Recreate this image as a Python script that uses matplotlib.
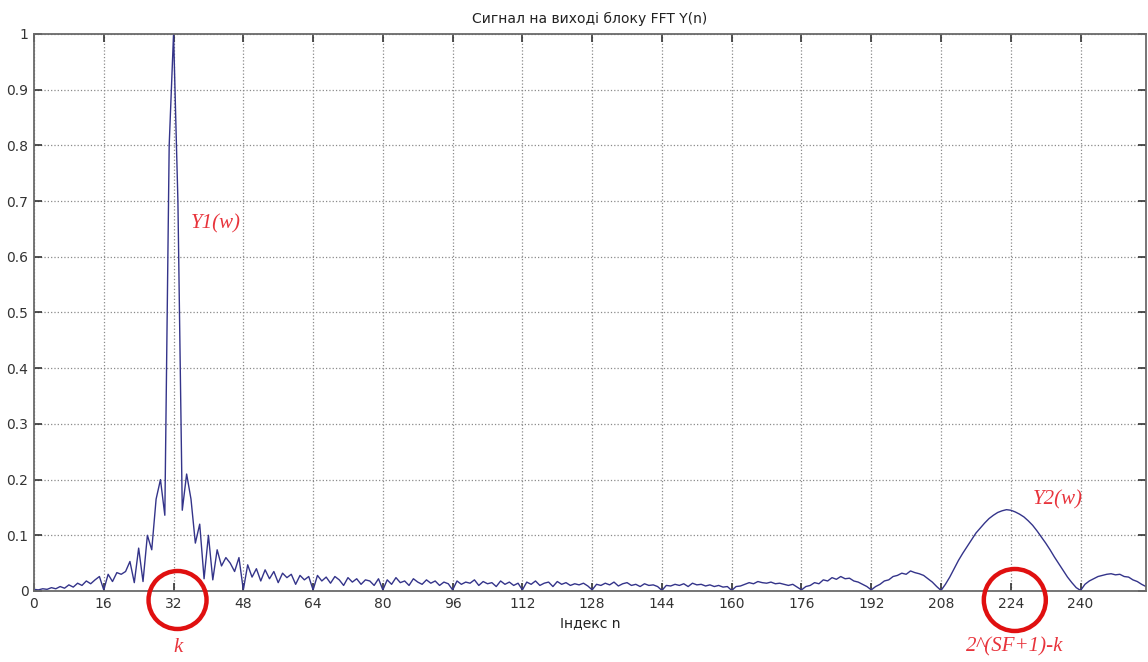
import matplotlib
matplotlib.use('Agg')
import matplotlib.pyplot as plt
from matplotlib.patches import Ellipse

# Амплітуда спектра |Y(n)|, n = 0..255 (по 16 відліків у рядку)
magnitude = [
    0.003, 0.002, 0.004, 0.003, 0.006, 0.004, 0.008, 0.005, 0.011, 0.007, 0.014, 0.010, 0.018, 0.013, 0.020, 0.026,
    0.002, 0.030, 0.017, 0.033, 0.030, 0.035, 0.053, 0.015, 0.077, 0.017, 0.100, 0.074, 0.165, 0.200, 0.136, 0.800,
    1.000, 0.700, 0.145, 0.210, 0.165, 0.086, 0.120, 0.022, 0.100, 0.020, 0.074, 0.045, 0.060, 0.050, 0.035, 0.060,
    0.002, 0.047, 0.025, 0.040, 0.018, 0.038, 0.022, 0.035, 0.015, 0.032, 0.024, 0.030, 0.012, 0.028, 0.020, 0.026,
    0.002, 0.028, 0.018, 0.025, 0.014, 0.026, 0.020, 0.010, 0.024, 0.016, 0.022, 0.012, 0.020, 0.018, 0.010, 0.022,
    0.002, 0.020, 0.012, 0.024, 0.015, 0.018, 0.010, 0.022, 0.016, 0.012, 0.020, 0.014, 0.018, 0.010, 0.016, 0.013,
    0.002, 0.018, 0.012, 0.016, 0.014, 0.020, 0.010, 0.017, 0.013, 0.015, 0.008, 0.018, 0.012, 0.016, 0.010, 0.014,
    0.002, 0.016, 0.012, 0.018, 0.010, 0.014, 0.016, 0.008, 0.017, 0.012, 0.015, 0.010, 0.013, 0.011, 0.014, 0.009,
    0.002, 0.012, 0.010, 0.014, 0.011, 0.016, 0.009, 0.013, 0.015, 0.010, 0.012, 0.008, 0.013, 0.010, 0.011, 0.008,
    0.001, 0.010, 0.009, 0.012, 0.010, 0.013, 0.008, 0.014, 0.011, 0.012, 0.009, 0.011, 0.008, 0.010, 0.007, 0.008,
    0.001, 0.008, 0.009, 0.012, 0.015, 0.013, 0.017, 0.015, 0.014, 0.016, 0.013, 0.014, 0.012, 0.010, 0.012, 0.007,
    0.002, 0.008, 0.010, 0.015, 0.013, 0.020, 0.018, 0.024, 0.021, 0.026, 0.022, 0.023, 0.018, 0.016, 0.012, 0.008,
    0.002, 0.008, 0.012, 0.018, 0.020, 0.026, 0.028, 0.032, 0.030, 0.036, 0.033, 0.031, 0.028, 0.022, 0.016, 0.008,
    0.001, 0.012, 0.025, 0.040, 0.055, 0.068, 0.080, 0.092, 0.104, 0.113, 0.122, 0.130, 0.136, 0.141, 0.144, 0.146,
    0.145, 0.142, 0.138, 0.133, 0.126, 0.118, 0.108, 0.097, 0.086, 0.074, 0.061, 0.049, 0.037, 0.025, 0.015, 0.006,
    0.001, 0.012, 0.018, 0.022, 0.026, 0.028, 0.030, 0.031, 0.029, 0.030, 0.026, 0.025, 0.020, 0.017, 0.012, 0.008,
]
n_index = list(range(len(magnitude)))

x_ticks = list(range(0, 241, 16))
y_ticks = [0, 0.1, 0.2, 0.3, 0.4, 0.5, 0.6, 0.7, 0.8, 0.9, 1.0]
y_labels = ['0', '0.1', '0.2', '0.3', '0.4', '0.5', '0.6', '0.7', '0.8', '0.9', '1']

# Позначки на графіку: (відлік n, підпис під колом, радіус кола в px)
circled = [(32, 'k', 29), (224, '2^(SF+1)-k', 31)]

cor_linha = '#34348a'
cor_anot = '#e8343c'

W, H = 1148, 662
fig = plt.figure(figsize=(W / 100, H / 100), dpi=100)
ax = fig.add_axes([34 / W, 1 - 591 / H, (1146 - 34) / W, (591 - 34) / H])

ax.plot(n_index, magnitude, color=cor_linha, linewidth=1.0)

ax.set_xlim(0, 255)
ax.set_ylim(0, 1)
ax.set_xticks(x_ticks)
ax.set_yticks(y_ticks)
ax.set_yticklabels(y_labels)
ax.tick_params(direction='in', length=6, width=1.2, top=True, right=True,
               labelsize=10, colors='#333333', pad=4)
ax.grid(True, linestyle=':', color='#8a8a8a', linewidth=0.9)
for s in ax.spines.values():
    s.set_color('#6a6a6a')
    s.set_linewidth(1.3)

ax.set_title('Сигнал на виході блоку FFT Y(n)', fontsize=10, color='#222222', pad=8)
ax.set_xlabel('Індекс n', fontsize=10, color='#222222', labelpad=4)

serif_it = dict(family='Liberation Serif', style='italic', color=cor_anot, fontsize=15)
ax.text(36, 0.65, 'Y1(w)', **serif_it)
ax.text(229, 0.155, 'Y2(w)', **serif_it)

# Кола навколо підписів 32 і 224 та підписи під ними
fig.canvas.draw()
for n_val, label, r in circled:
    xd, _ = ax.transData.transform((n_val, 0))
    cx, cy = xd + 4, 600
    fig.add_artist(Ellipse((cx / W, 1 - cy / H), 2 * r / W, 2 * r / H,
                           transform=fig.transFigure, fill=False,
                           edgecolor='#e01010', linewidth=3.2, clip_on=False))
    fig.text(cx / W, 1 - 647 / H, label, ha='center', va='center', **serif_it)

fig.savefig('out.png', dpi=100)
